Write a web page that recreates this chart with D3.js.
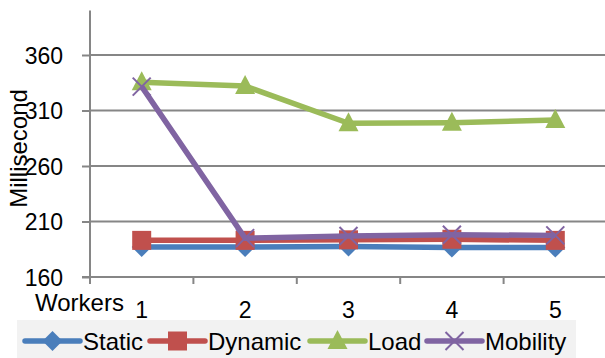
<!DOCTYPE html>
<html><head><meta charset="utf-8">
<script src="https://cdn.jsdelivr.net/npm/d3@7"></script>
<style>body{margin:0;background:#fff}svg{display:block}text{font-family:"Liberation Sans",Arial,sans-serif;fill:#000}</style>
</head><body>
<svg id="c" width="605" height="358"></svg>
<script>
const categories = ["1","2","3","4","5"];
const yTicks = [160,210,260,310,360];
const staticVals   = [187,187,187.5,186.5,186.5];
const dynamicVals  = [193,193,193.5,194,193];
const loadVals     = [335.5,332,298.5,299,301.5];
const mobilityVals = [331.5,195,197,198,197.5];
const seriesNames = ["Static","Dynamic","Load","Mobility"];
const seriesColors = ["#4A7EBB","#C0504D","#9BBB59","#8064A2"];
const seriesMarkers = ["diamond","square","triangle","x"];
const seriesData = [staticVals,dynamicVals,loadVals,mobilityVals];

const svg = d3.select("#c");
const x = d3.scalePoint().domain(categories).range([90,607]).padding(0.5);
const y = d3.scaleLinear().domain([160,400]).range([277,10.6]);
const step = x.step();

// gridlines
svg.append("g").selectAll("line").data(yTicks.slice(1)).join("line")
  .attr("x1",90).attr("x2",605).attr("y1",d=>y(d)).attr("y2",d=>y(d))
  .attr("stroke","#868686").attr("stroke-width",2);

// y axis
const yAxis = svg.append("g").attr("transform","translate(90,0)")
  .call(d3.axisLeft(y).tickValues(yTicks).tickSize(8).tickPadding(19));
yAxis.select(".domain").remove();
yAxis.selectAll(".tick line").attr("stroke","#868686").attr("stroke-width",2);
yAxis.selectAll(".tick text").style("font-size","23px").attr("dy","0.36em");
svg.append("line").attr("x1",90).attr("x2",90).attr("y1",y(400)).attr("y2",284)
  .attr("stroke","#868686").attr("stroke-width",2);

// x axis
svg.append("line").attr("x1",82).attr("x2",605).attr("y1",y(160)).attr("y2",y(160))
  .attr("stroke","#868686").attr("stroke-width",2);
const bounds = categories.slice(1).map(c=>x(c)-step/2);
svg.append("g").selectAll("line").data(bounds).join("line")
  .attr("x1",d=>d).attr("x2",d=>d).attr("y1",y(160)).attr("y2",y(160)+7)
  .attr("stroke","#868686").attr("stroke-width",2);
svg.append("g").selectAll("text").data(categories).join("text")
  .attr("x",d=>x(d)).attr("y",318).attr("text-anchor","middle")
  .style("font-size","23px").text(d=>d);
svg.append("text").attr("x",35).attr("y",311).style("font-size","24px").text("Workers");

// y title
svg.append("text").attr("transform","translate(27,148.5) rotate(-90)")
  .attr("text-anchor","middle").style("font-size","24px").text("Millisecond");

function marker(g, type, cx, cy, color){
  if(type==="diamond"){
    g.append("path").attr("d",`M${cx},${cy-10}L${cx+10},${cy}L${cx},${cy+10}L${cx-10},${cy}Z`).attr("fill",color);
  } else if(type==="square"){
    g.append("rect").attr("x",cx-9.5).attr("y",cy-9.5).attr("width",19).attr("height",19).attr("fill",color);
  } else if(type==="triangle"){
    g.append("path").attr("d",`M${cx},${cy-11}L${cx+10},${cy+8}L${cx-10},${cy+8}Z`).attr("fill",color);
  } else {
    g.append("path").attr("d",`M${cx-9},${cy-9}L${cx+9},${cy+9}M${cx-9},${cy+9}L${cx+9},${cy-9}`)
      .attr("stroke",color).attr("stroke-width",2).attr("fill","none");
  }
}

const line = d3.line().x((d,i)=>x(categories[i])).y(d=>y(d));
seriesData.forEach((vals,si)=>{
  const g = svg.append("g");
  g.append("path").attr("d",line(vals)).attr("fill","none")
    .attr("stroke",seriesColors[si]).attr("stroke-width",5.5).attr("stroke-linejoin","round");
  vals.forEach((v,i)=>marker(g,seriesMarkers[si],x(categories[i]),y(v),seriesColors[si]));
});

// legend
svg.append("rect").attr("x",17).attr("y",320).attr("width",559).attr("height",38).attr("fill","#F2F2F2");
const legX = [25,150,310,427];
seriesNames.forEach((n,i)=>{
  const g = svg.append("g");
  const x0 = legX[i], cy = 341;
  g.append("line").attr("x1",x0).attr("x2",x0+55).attr("y1",cy).attr("y2",cy)
    .attr("stroke",seriesColors[i]).attr("stroke-width",5.5).attr("stroke-linecap","round");
  marker(g,seriesMarkers[i],x0+27.5,cy,seriesColors[i]);
  g.append("text").attr("x",x0+58).attr("y",cy+8.5).style("font-size","24px").text(n);
});
</script>
</body></html>
